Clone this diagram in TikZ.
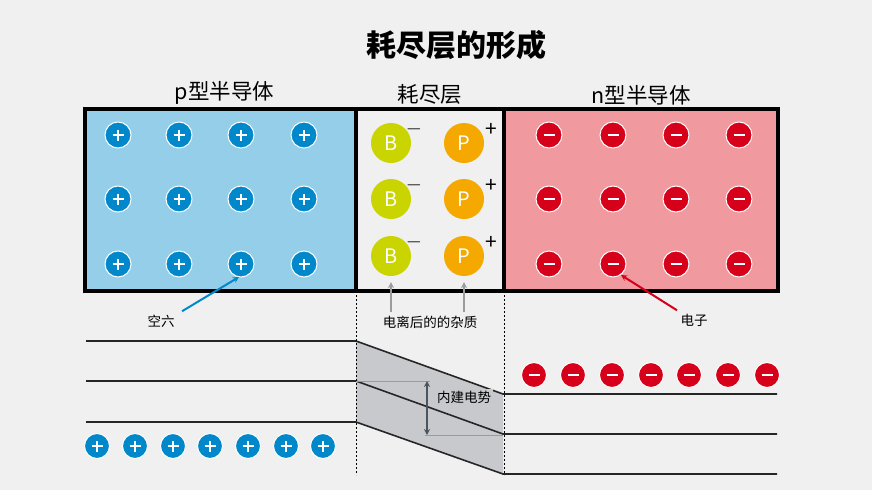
\documentclass[tikz,border=0pt]{standalone}
\usepackage{fontspec}
\setmainfont{Noto Sans CJK SC}
\usetikzlibrary{arrows.meta, positioning}

\definecolor{bgcol}{HTML}{F0F0F0}
\definecolor{pcol}{HTML}{95CEE8}
\definecolor{ncol}{HTML}{F0999F}
\definecolor{holeblue}{HTML}{0088CB}
\definecolor{elecred}{HTML}{D7001A}
\definecolor{bcol}{HTML}{C9D400}
\definecolor{dcol}{HTML}{F4A800}
\definecolor{bandgray}{HTML}{C7C9CC}
\definecolor{pointgray}{HTML}{9A9C9E}
\definecolor{potgray}{HTML}{4A555F}

\begin{document}
\begin{tikzpicture}[
    x=1pt, y=-1pt,
    region/.style = {draw, line width=3.5pt, fill=#1, minimum height=182pt, inner sep=0pt},
    head/.style   = {font=\fontsize{21.5}{24}\selectfont},
    lbl/.style    = {font=\fontsize{13.5}{16}\selectfont},
    hole/.style   = {circle, fill=holeblue, draw=white, line width=1pt, minimum size=#1, inner sep=0pt,
                     path picture={\draw[white, line width=2.2pt]
                       ([xshift=-5.5pt]path picture bounding box.center) -- ([xshift=5.5pt]path picture bounding box.center)
                       ([yshift=-5.5pt]path picture bounding box.center) -- ([yshift=5.5pt]path picture bounding box.center);}},
    elec/.style   = {circle, fill=elecred, draw=white, line width=1pt, minimum size=#1, inner sep=0pt,
                     path picture={\draw[white, line width=2.2pt]
                       ([xshift=-5.5pt]path picture bounding box.center) -- ([xshift=5.5pt]path picture bounding box.center);}},
    ion/.style    = {circle, fill=#1, minimum size=40pt, inner sep=0pt, text=white, font=\fontsize{20}{22}\selectfont},
    sgn/.style    = {font=\fontsize{21}{24}\selectfont, inner sep=0pt},
    band/.style   = {line width=1.6pt, draw=black!85},
    edge/.style   = {line width=1pt, dash pattern=on 2pt off 2pt},
    arr/.style    = {-{Stealth[length=6pt, width=6pt]}, line width=2pt},
]
% background
\fill[bgcol] (0,0) rectangle (872,490);

% title
\node[font=\fontsize{30}{34}\selectfont\bfseries] (title) at (456,45) {耗尽层的形成};

% three regions
\node[region=pcol,    minimum width=271pt] (preg) at (220.5,200) {};
\node[region=bgcol,   minimum width=148pt] (dreg) at (430,200)   {};
\node[region=ncol,    minimum width=274pt] (nreg) at (641,200)   {};

\node[head, above=-1pt of preg, xshift=4pt] (phead) {p型半导体};
\node[head, above=-1pt of dreg]             (dhead) {耗尽层};
\node[head, above=-1pt of nreg]             (nhead) {n型半导体};

% holes and electrons
\foreach \x [count=\i] in {118,179,241,304}
  \foreach \y [count=\j] in {135,199,264}
    \node[hole=26pt] (h\i\j) at (\x,\y) {};
\foreach \x [count=\i] in {549,613,676,739}
  \foreach \y [count=\j] in {135,199,264}
    \node[elec=26pt] (e\i\j) at (\x,\y) {};

% ionised impurities
\foreach \y [count=\j] in {143,199,256} {
  \node[ion=bcol] (b\j) at (391,\y) {B};
  \node[ion=dcol] (d\j) at (464,\y) {P};
  \node[sgn] at (414,\y-14) {$-$};
  \node[sgn] at (491,\y-13) {+};
}

% labels and pointers
\node[lbl] (kx)  at (161,321) {空六};
\node[lbl] (ion) at (430,322) {电离后的的杂质};
\node[lbl] (dz)  at (694,320) {电子};

\draw[arr, holeblue] ([xshift=4pt]kx.north east) -- ([xshift=-2pt, yshift=-13pt]h33.center);
\draw[arr, elecred]  (dz.north west) -- ([xshift=8pt, yshift=-11pt]e23.center);
\draw[arr, pointgray] (ion.north -| b3) -- ([yshift=-6pt]b3.south);
\draw[arr, pointgray] (ion.north -| d3) -- ([yshift=-6pt]d3.south);

% band diagram
\fill[bandgray] (356,341) -- (503,394) -- (503,474) -- (356,422) -- cycle;
\draw[band] (86,341) -- (356,341) -- (503,394) -- (777,394);
\draw[band] (86,381) -- (356,381) -- (503,434) -- (777,434);
\draw[band] (86,422) -- (356,422) -- (503,474) -- (777,474);
\draw[pointgray, line width=1pt] (356,381) -- (430,381);
\draw[pointgray, line width=1pt] (425,435) -- (503,435);
\node[lbl, fill=bandgray, inner sep=2pt] (vbi) at (464,397) {内建电势};
\draw[{Stealth[length=6pt, width=6pt]}-{Stealth[length=6pt, width=6pt]}, potgray, line width=2pt]
  (427,381) -- (427,435);

% junction edges
\draw[edge] (356,291) -- (356,475);
\draw[edge] (504,291) -- (504,475);

% free carriers
\foreach \x [count=\i] in {97,135,173,210,248,286,323}
  \node[hole=25pt] (fh\i) at (\x,446) {};
\foreach \x [count=\i] in {534,573,612,651,689,728,767}
  \node[elec=25pt] (fe\i) at (\x,375) {};
\end{tikzpicture}
\end{document}
